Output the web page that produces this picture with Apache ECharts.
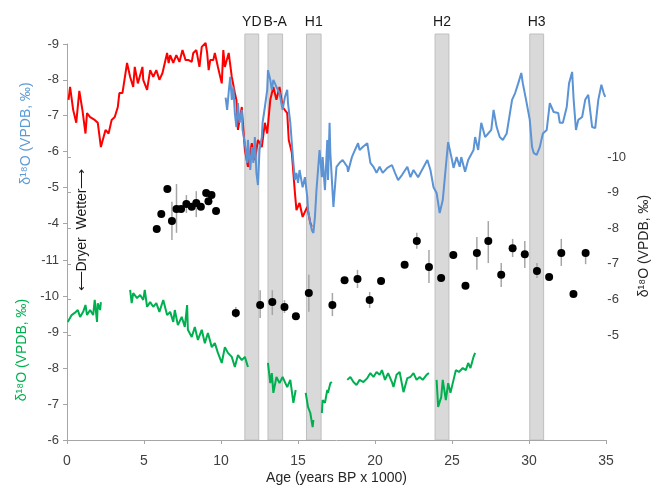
<!DOCTYPE html>
<html>
<head>
<meta charset="utf-8">
<script src="https://cdn.jsdelivr.net/npm/echarts@6/dist/echarts.min.js"></script>
<style>
html,body{margin:0;padding:0;background:#fff;}
#main{width:659px;height:489px;}
</style>
</head>
<body>
<div id="main"></div>
<script>
/* event bands (ka) */
var bandStart = [11.55, 13.05, 15.55, 23.9, 30.05];
var bandEnd   = [12.45, 14.0, 16.5, 24.8, 30.95];
var bandName  = ['YD', 'B-A', 'H1', 'H2', 'H3'];

/* red record - upper left axis */
var redAge = [0.1,0.2,0.4,0.6,0.8,1.0,1.2,1.3,1.5,1.8,2.0,2.2,2.5,2.7,2.9,3.1,3.3,3.4,3.6,3.9,4.1,4.3,4.4,4.6,4.9,4.95,5.2,5.4,5.6,5.8,6.0,6.2,6.5,6.6,6.7,6.9,7.1,7.3,7.5,7.7,7.9,8.1,8.2,8.4,8.6,8.75,9.0,9.1,9.2,9.3,9.5,9.6,9.8,10.05,10.15,10.25,10.5,10.7,10.9,11.0,11.1,11.35,11.55,11.75,12.0,12.2,12.4,12.65,12.85,13.0,13.2,13.4,13.6,13.8,14.0,14.3,14.4,14.6,14.8,14.9,15.1,15.3,15.6,15.8,15.9];
var redVal = [-7.44,-7.8,-7.16,-6.8,-7.69,-7.16,-6.5,-7.07,-6.96,-6.88,-6.8,-6.12,-6.6,-6.5,-6.88,-6.96,-7.24,-7.63,-7.63,-8.47,-8.08,-7.8,-8.36,-7.9,-8.36,-8.0,-7.72,-8.27,-8.08,-8.27,-8.0,-8.19,-8.75,-8.47,-8.69,-8.47,-8.69,-8.5,-8.83,-8.55,-8.55,-8.5,-8.75,-8.83,-8.36,-8.92,-9.03,-8.75,-8.27,-8.55,-8.55,-8.75,-8.36,-7.9,-8.83,-8.36,-8.75,-8.08,-7.63,-7.44,-6.6,-7.24,-6.04,-5.57,-6.23,-5.76,-6.32,-6.12,-6.8,-6.5,-7.44,-7.8,-7.44,-7.8,-7.24,-7.07,-6.32,-5.96,-4.84,-4.36,-4.56,-4.17,-4.45,-4.0,-3.9];

/* blue record - upper left axis */
var blueAge = [10.3,10.4,10.5,10.6,10.7,10.8,10.9,11.0,11.1,11.2,11.35,11.4,11.55,11.7,11.75,11.9,12.0,12.1,12.2,12.3,12.4,12.5,12.65,12.7,12.85,13.0,13.05,13.2,13.3,13.4,13.6,13.8,14.0,14.15,14.3,14.35,14.5,14.6,14.7,14.8,14.9,15.0,15.1,15.3,15.45,15.6,15.65,15.8,15.9,16.0,16.1,16.2,16.3,16.4,16.55,16.6,16.75,16.9,16.95,17.05,17.1,17.3,17.5,17.7,17.9,18.2,18.25,18.5,18.7,18.9,19.0,19.2,19.5,19.7,19.9,20.1,20.3,20.5,20.8,21.1,21.3,21.5,21.75,22.1,22.3,22.5,22.8,23.05,23.4,23.6,23.8,24.0,24.2,24.4,24.7,24.75,25.0,25.1,25.3,25.5,25.6,25.85,26.05,26.4,26.5,26.7,26.9,27.15,27.35,27.55,27.7,27.9,28.1,28.3,28.55,28.9,29.1,29.3,29.5,29.6,29.85,30.05,30.2,30.3,30.5,30.7,30.9,31.15,31.35,31.6,31.9,32.0,32.2,32.45,32.6,32.8,32.9,33.05,33.2,33.45,33.65,33.85,34.1,34.3,34.5,34.7,34.85,34.95];
var blueVal = [-7.5,-7.16,-7.66,-8.08,-7.44,-7.8,-7.07,-6.68,-7.35,-6.8,-7.16,-6.6,-6.23,-5.68,-6.32,-5.48,-6.12,-5.68,-6.4,-5.4,-5.06,-6.04,-6.4,-6.8,-7.24,-7.72,-8.27,-8.0,-7.72,-8.0,-7.8,-7.63,-7.16,-7.52,-7.72,-7.35,-6.8,-6.23,-5.68,-5.2,-5.4,-5.12,-5.48,-5.0,-5.28,-4.73,-4.36,-4.0,-3.8,-3.72,-4.17,-4.92,-5.48,-6.04,-5.28,-5.84,-4.92,-6.32,-5.2,-6.8,-5.96,-4.45,-5.57,-5.68,-5.76,-5.57,-5.43,-5.84,-6.04,-6.23,-6.04,-6.12,-6.23,-5.68,-5.57,-5.4,-5.57,-5.4,-5.54,-5.62,-5.4,-5.2,-5.34,-5.57,-5.28,-5.48,-5.28,-5.48,-5.76,-5.48,-5.0,-4.84,-4.28,-4.64,-6.04,-6.26,-5.76,-5.54,-5.84,-5.57,-5.84,-5.43,-5.76,-6.04,-6.4,-6.04,-6.8,-6.4,-6.5,-6.6,-7.16,-6.68,-6.4,-6.32,-6.5,-7.44,-7.63,-7.9,-8.19,-7.9,-7.35,-6.88,-6.12,-5.96,-5.9,-6.12,-6.5,-6.6,-7.35,-7.1,-7.07,-6.8,-6.8,-7.24,-7.9,-8.22,-7.44,-6.6,-6.88,-6.96,-7.44,-7.58,-6.68,-6.65,-7.44,-7.86,-7.63,-7.52];

/* green record - lower left axis (null = gap) */
var greenAge = [0.05,0.3,0.5,0.7,0.85,1.05,1.2,1.3,1.5,1.7,1.8,1.95,2.0,2.15,2.2,3.0,
  4.1,4.2,4.3,4.55,4.75,4.95,5.05,5.2,5.4,5.6,5.8,6.0,6.25,6.5,6.7,6.9,7.0,7.2,7.45,7.65,7.8,7.85,8.1,8.3,8.5,8.75,8.95,9.15,9.4,9.6,9.8,10.05,10.25,10.45,10.7,10.9,11.1,11.35,11.55,11.75,12.5,
  13.05,13.2,13.3,13.4,13.6,13.8,14.0,14.3,14.5,14.7,14.85,15.2,
  15.5,15.65,15.8,15.95,16.0,16.3,
  16.55,16.6,16.75,16.9,16.95,17.1,17.2,17.8,
  18.2,18.4,18.6,18.8,19.0,19.25,19.5,19.7,19.9,20.1,20.3,20.45,20.65,20.85,21.1,21.2,21.4,21.6,21.85,22.1,22.3,22.5,22.7,22.9,23.1,23.35,23.5,23.7,
  24.0,24.1,24.3,24.4,24.6,24.75,24.9,25.1,25.25,25.45,25.7,25.9,26.05,26.2,26.4,26.5];
var greenVal = [-9.28,-9.47,-9.53,-9.61,-9.42,-9.56,-9.75,-9.47,-9.61,-9.47,-9.89,-9.28,-9.8,-9.61,-9.83,null,
  -10.17,-9.8,-10.08,-9.94,-10.03,-9.89,-10.17,-9.7,-9.83,-9.7,-9.8,-9.56,-9.89,-9.47,-9.56,-9.28,-9.61,-9.19,-9.42,-9.14,-9.75,-9.06,-8.86,-9.14,-8.78,-9.06,-8.69,-8.97,-8.58,-8.69,-8.42,-8.14,-8.58,-8.42,-8.31,-8.03,-8.36,-8.22,-8.31,-8.03,null,
  -8.14,-7.58,-7.86,-7.31,-7.75,-7.58,-7.75,-7.47,-7.67,-7.03,-7.39,null,
  -7.31,-6.92,-6.75,-6.36,-6.56,null,
  -6.75,-7.11,-7.03,-7.39,-7.31,-7.58,-7.61,null,
  -7.67,-7.75,-7.61,-7.53,-7.67,-7.61,-7.72,-7.86,-7.75,-7.89,-7.81,-7.94,-7.67,-7.86,-7.61,-7.47,-7.81,-7.89,-7.33,-7.72,-7.75,-7.86,-7.67,-7.75,-7.67,-7.81,-7.86,null,
  -7.67,-6.92,-7.19,-7.67,-7.11,-7.58,-7.31,-7.67,-7.94,-7.89,-8.0,-7.94,-8.14,-8.0,-8.31,-8.42];

/* black dots - right axis, with error bar ends (null = no bar) */
var dotAge = [5.9,6.2,6.6,6.9,7.2,7.5,7.85,8.2,8.5,8.8,9.15,9.3,9.5,9.8,
  11.1,12.7,13.5,14.3,15.05,15.9,17.45,18.25,19.1,19.9,20.65,22.2,23.0,23.8,24.6,25.4,26.2,26.95,27.7,28.55,29.3,30.1,30.9,31.7,32.5,33.3,34.1];
var dotVal = [-7.98,-8.4,-9.1,-8.2,-8.54,-8.54,-8.68,-8.6,-8.71,-8.6,-8.99,-8.76,-8.93,-8.48,
  -5.62,-5.84,-5.93,-5.79,-5.53,-6.18,-5.84,-6.54,-6.57,-5.98,-6.52,-6.97,-7.64,-6.91,-6.6,-7.25,-6.38,-7.3,-7.64,-6.69,-7.44,-7.27,-6.8,-6.63,-7.3,-6.15,-7.3];
var dotLo = [null,null,null,-8.74,-9.24,null,-8.93,null,-9.04,null,null,null,null,null,
  -5.79,-6.26,-6.26,-5.98,null,-6.69,-6.18,null,-6.83,-6.21,null,null,-7.87,-7.39,null,null,null,-7.75,-8.2,-7.02,-7.7,-7.64,-7.02,null,-7.7,null,-7.42];
var dotHi = [null,null,null,-7.67,-7.87,null,-8.43,null,-8.31,null,null,null,null,null,
  -5.48,-5.48,-5.56,-5.62,null,-5.65,-5.53,null,-6.32,-5.76,null,null,-7.42,-6.46,null,null,null,-6.83,-7.02,-6.35,-7.19,-6.88,-6.6,null,-6.94,null,-6.99];

var FONT = 'Liberation Sans, Arial, sans-serif';

function pairs(xs, ys) {
  var out = [];
  for (var i = 0; i < xs.length; i++) {
    out.push(ys[i] === null ? [xs[i], '-'] : [xs[i], ys[i]]);
  }
  return out;
}

var bandData = [];
for (var i = 0; i < bandStart.length; i++) bandData.push([bandStart[i], bandEnd[i]]);

var errData = [];
for (var j = 0; j < dotAge.length; j++) {
  if (dotLo[j] !== null) errData.push([dotAge[j], dotLo[j], dotHi[j]]);
}

var axisGray = { lineStyle: { color: '#a6a6a6', width: 1 } };
var labelStyle = { color: '#404040', fontSize: 13, fontFamily: FONT };

var chart = echarts.init(document.getElementById('main'));

var option = {
  animation: false,
  backgroundColor: '#fff',
  textStyle: { fontFamily: FONT },
  grid: [
    { left: 67, width: 539, top: 44, height: 179 },   // upper
    { left: 67, width: 539, top: 260, height: 180 },  // lower
    { left: 67, width: 539, top: 157, height: 178 },  // right (dots)
    { left: 67, width: 539, top: 34, height: 406 }    // bands
  ],
  xAxis: [
    { gridIndex: 0, type: 'value', min: 0, max: 35, show: false },
    { gridIndex: 1, type: 'value', min: 0, max: 35, interval: 5,
      axisLine: axisGray, axisTick: { show: true, length: 4, lineStyle: { color: '#a6a6a6' } },
      axisLabel: { color: '#404040', fontSize: 14, fontFamily: FONT, margin: 14 },
      splitLine: { show: false },
      name: 'Age (years BP x 1000)', nameLocation: 'middle', nameGap: 31,
      nameTextStyle: { color: '#262626', fontSize: 14, fontFamily: FONT } },
    { gridIndex: 2, type: 'value', min: 0, max: 35, show: false },
    { gridIndex: 3, type: 'value', min: 0, max: 35, show: false }
  ],
  yAxis: [
    { gridIndex: 0, type: 'value', min: -9, max: -4, interval: 1, inverse: true,
      axisLine: { show: true, lineStyle: { color: '#a6a6a6' } },
      axisTick: { show: true, length: 4, lineStyle: { color: '#a6a6a6' } },
      axisLabel: labelStyle, splitLine: { show: false },
      name: 'δ¹⁸O (VPDB, ‰)', nameLocation: 'middle', nameGap: 34, nameRotate: 90,
      nameTextStyle: { color: '#5b9bd5', fontSize: 14, fontFamily: FONT } },
    { gridIndex: 1, type: 'value', min: -11, max: -6, interval: 1, inverse: true,
      axisLine: { show: true, lineStyle: { color: '#a6a6a6' } },
      axisTick: { show: true, length: 4, lineStyle: { color: '#a6a6a6' } },
      axisLabel: labelStyle, splitLine: { show: false },
      name: 'δ¹⁸O (VPDB, ‰)', nameLocation: 'middle', nameGap: 34, nameRotate: 90,
      nameTextStyle: { color: '#00b050', fontSize: 14, fontFamily: FONT } },
    { gridIndex: 2, type: 'value', position: 'right', min: -10, max: -5, interval: 1, inverse: true,
      axisLine: { show: true, lineStyle: { color: '#a6a6a6' } },
      axisTick: { show: true, length: 4, lineStyle: { color: '#a6a6a6' } },
      axisLabel: labelStyle, splitLine: { show: false },
      name: 'δ¹⁸O (VPDB, ‰)', nameLocation: 'middle', nameGap: 34, nameRotate: 90,
      nameTextStyle: { color: '#262626', fontSize: 14, fontFamily: FONT } },
    { gridIndex: 3, type: 'value', min: 0, max: 1, show: false }
  ],
  graphic: [
    { type: 'text', x: 82, y: 230, rotation: Math.PI / 2, z: 10,
      style: { text: '⟵Dryer  Wetter⟶', align: 'center', verticalAlign: 'middle',
        fontSize: 14, fontFamily: FONT, fill: '#1a1a1a' } }
  ],
  series: [
    {
      name: 'bands', type: 'custom', xAxisIndex: 3, yAxisIndex: 3, z: 0,
      data: bandData,
      renderItem: function (params, api) {
        var p1 = api.coord([api.value(0), 1]);
        var p2 = api.coord([api.value(1), 0]);
        return {
          type: 'group',
          children: [
            { type: 'rect', shape: { x: p1[0], y: p1[1], width: p2[0] - p1[0], height: p2[1] - p1[1] },
              style: { fill: '#d9d9d9', stroke: '#bfbfbf', lineWidth: 1 } },
            { type: 'text', style: { text: bandName[params.dataIndex], x: (p1[0] + p2[0]) / 2, y: p1[1] - 5,
              align: 'center', verticalAlign: 'bottom', fontSize: 14, fontFamily: FONT, fill: '#1a1a1a' } }
          ]
        };
      }
    },
    {
      name: 'red', type: 'line', xAxisIndex: 0, yAxisIndex: 0, z: 2, clip: false,
      data: pairs(redAge, redVal), symbol: 'none',
      lineStyle: { color: '#ff0000', width: 2 }
    },
    {
      name: 'blue', type: 'line', xAxisIndex: 0, yAxisIndex: 0, z: 3, clip: false,
      data: pairs(blueAge, blueVal), symbol: 'none',
      lineStyle: { color: '#5b93d5', width: 2 }
    },
    {
      name: 'green', type: 'line', xAxisIndex: 1, yAxisIndex: 1, z: 2, clip: false,
      data: pairs(greenAge, greenVal), symbol: 'none', connectNulls: false,
      lineStyle: { color: '#00b050', width: 2 }
    },
    {
      name: 'errors', type: 'custom', xAxisIndex: 2, yAxisIndex: 2, z: 3,
      data: errData,
      renderItem: function (params, api) {
        var a = api.coord([api.value(0), api.value(1)]);
        var b = api.coord([api.value(0), api.value(2)]);
        return { type: 'line', shape: { x1: a[0], y1: a[1], x2: b[0], y2: b[1] },
          style: { stroke: '#a6a6a6', lineWidth: 1.5 } };
      }
    },
    {
      name: 'dots', type: 'scatter', xAxisIndex: 2, yAxisIndex: 2, z: 4,
      data: pairs(dotAge, dotVal), symbolSize: 8,
      itemStyle: { color: '#000', opacity: 1 }
    }
  ]
};

chart.setOption(option);
</script>
</body>
</html>
